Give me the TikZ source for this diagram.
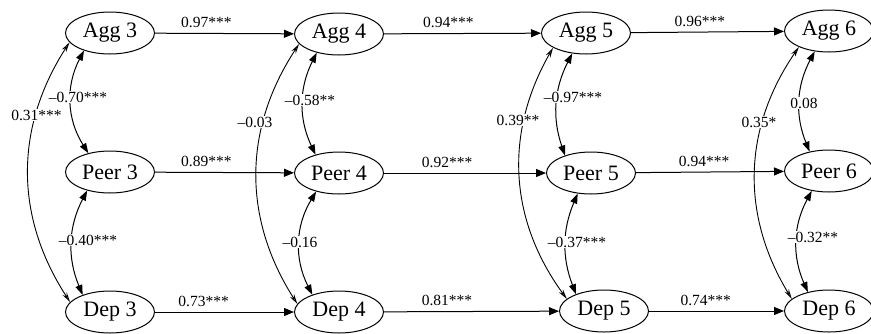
\documentclass[tikz,border=0pt]{standalone}
\usepackage{fontspec}
\setmainfont{Liberation Serif}
\usetikzlibrary{arrows.meta,shapes.geometric}
\begin{document}
\begin{tikzpicture}[x=1pt,y=-1pt,
  var/.style={draw, ellipse, line width=1pt, minimum width=89pt, minimum height=42pt, inner sep=0pt, font=\fontsize{22}{24}\selectfont},
  reg/.style={line width=1pt, -{Triangle[length=10pt,width=8pt]}},
  cor/.style={line width=1pt, {Triangle[length=10pt,width=7pt]}-{Triangle[length=10pt,width=7pt]}},
  lcor/.style={line width=0.9pt, {Stealth[open,length=10pt,width=5pt]}-{Stealth[open,length=10pt,width=5pt]}},
  lab/.style={font=\fontsize{15.5}{18}\selectfont, inner sep=1pt},
  clab/.style={lab, fill=white}
]
\useasboundingbox (0,0) rectangle (871,333);
% variables
\node[var] (A3) at (110,33) {Agg 3};
\node[var] (P3) at (110,172) {Peer 3};
\node[var] (D3) at (110,312) {Dep 3};
\node[var] (A4) at (339,34) {Agg 4};
\node[var] (P4) at (339,173) {Peer 4};
\node[var] (D4) at (339,312) {Dep 4};
\node[var] (A5) at (586,33) {Agg 5};
\node[var] (P5) at (591,173) {Peer 5};
\node[var] (D5) at (604,311) {Dep 5};
\node[var] (A6) at (829,31) {Agg 6};
\node[var] (P6) at (829,171) {Peer 6};
\node[var] (D6) at (829,311) {Dep 6};
% stability paths
\draw[reg] (A3) -- node[lab,above=4pt,pos=0.37] (h1) {0.97***} (A4);
\draw[reg] (A4) -- node[lab,above=4pt,pos=0.41] (h2) {0.94***} (A5);
\draw[reg] (A5) -- node[lab,above=4pt,pos=0.45] (h3) {0.96***} (A6);
\draw[reg] (P3) -- node[lab,above=4pt,pos=0.37] (h4) {0.89***} (P4);
\draw[reg] (P4) -- node[lab,above=4pt,pos=0.39] (h5) {0.92***} (P5);
\draw[reg] (P5) -- node[lab,above=4pt,pos=0.46] (h6) {0.94***} (P6);
\draw[reg] (D3) -- node[lab,above=4pt,pos=0.35] (h7) {0.73***} (D4);
\draw[reg] (D4) -- node[lab,above=4pt,pos=0.36] (h8) {0.81***} (D5);
\draw[reg] (D5) -- node[lab,above=4pt,pos=0.42] (h9) {0.74***} (D6);
% correlations
\draw[cor] (A3.214) to[bend right=30] (P3.139);
\draw[cor] (P3.219) to[bend right=25] (D3.148);
\draw[lcor] (A3.193) to[bend right=33] (D3.166);
\draw[cor] (A4.220) to[bend right=26] (P4.142);
\draw[cor] (P4.219) to[bend right=29] (D4.147);
\draw[lcor] (A4.194) to[bend right=33] (D4.169);
\draw[cor] (A5.236) to[bend right=23] (P5.146);
\draw[cor] (P5.237) to[bend right=22] (D5.149);
\draw[lcor] (A5.204) to[bend right=33] (D5.162);
\draw[cor] (A6.235) to[bend right=25] (P6.135);
\draw[cor] (P6.229) to[bend right=26] (D6.138);
\draw[lcor] (A6.208) to[bend right=33] (D6.162);
% correlation labels
\node[clab] (c1) at (78,97) {–0.70***};
\node[clab] (c2) at (88,240) {–0.40***};
\node[clab] (c3) at (36.5,115) {0.31***};
\node[clab] (c4) at (310,100) {–0.58**};
\node[clab] (c5) at (300,242) {–0.16};
\node[clab] (c6) at (255,122) {–0.03};
\node[clab] (c7) at (573,97) {–0.97***};
\node[clab] (c8) at (577,242) {–0.37***};
\node[clab] (c9) at (518,120) {0.39**};
\node[clab] (c10) at (804,103) {0.08};
\node[clab] (c11) at (813,237) {–0.32**};
\node[clab] (c12) at (759,122) {0.35*};
\end{tikzpicture}
\end{document}
